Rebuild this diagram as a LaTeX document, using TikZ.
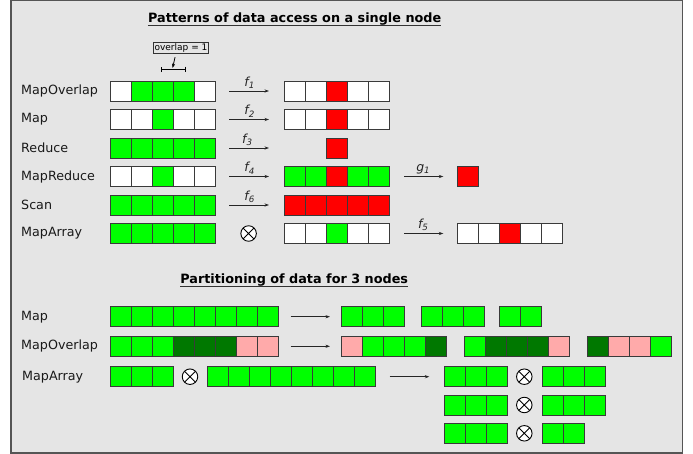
\documentclass[tikz,border=0pt]{standalone}
\usepackage{fontspec}
\setmainfont{DejaVu Sans}
\usetikzlibrary{arrows.meta}

\definecolor{bggray}{HTML}{E5E5E5}
\definecolor{framecol}{HTML}{555555}
\definecolor{cellline}{HTML}{3A3A3A}
\definecolor{cW}{HTML}{FFFFFF}
\definecolor{cG}{HTML}{00FF00}
\definecolor{cD}{HTML}{007800}
\definecolor{cP}{HTML}{FFAAAA}
\definecolor{cR}{HTML}{FF0000}

% one row of array cells: name, left x, top y, list of fill colours
\newcommand\cellrow[4]{%
  \foreach \c [count=\i] in {#4}{%
    \node[cell, fill=\c, anchor=north west] (#1-\i) at ({#2+21*(\i-1)},#3) {};
  }%
}

\tikzset{
  cell/.style={draw=cellline, line width=0.9pt, minimum width=21pt,
    minimum height=20pt, inner sep=0pt, outer sep=0pt},
  rowlabel/.style={anchor=west, inner sep=0pt, font=\fontsize{12.7}{15}\selectfont, text=black!90},
  title/.style={anchor=base, inner sep=0pt, font=\fontsize{12.8}{15}\selectfont\bfseries},
  flow/.style={-{Stealth[length=4.5pt,width=3.2pt]}, line width=0.8pt, black!85},
  flabel/.style={midway, above=2pt, inner sep=0pt, font=\fontsize{12.5}{15}\selectfont\itshape},
  combine/.style={circle, draw=black, fill=white, line width=0.9pt,
    minimum size=15.5pt, inner sep=0pt,
    path picture={\draw[line width=0.9pt] (path picture bounding box.center) +(45:7.75pt) -- +(225:7.75pt)
      (path picture bounding box.center) +(135:7.75pt) -- +(-45:7.75pt);}},
}

\begin{document}
\begin{tikzpicture}[x=1pt, y=-1pt]
\useasboundingbox (0,0) rectangle (693,454);
\draw[framecol, line width=1.3pt, fill=bggray] (11,0.7) rectangle (682.4,453);

% ---------- patterns of data access on a single node ----------
\node[title] (t1) at (294.7,22.7) {Patterns of data access on a single node};
\draw[line width=1.1pt, black!80] ([yshift=-3pt]t1.base west) -- ([yshift=-3pt]t1.base east);

\node[draw=black!80, line width=0.8pt, inner sep=1.2pt, font=\fontsize{9}{10}\selectfont]
  (ovbox) at (181,48.3) {overlap = 1};
\coordinate (brL) at (160.7,69.5);
\coordinate (brR) at (186,69.5);
\coordinate (brtip) at (172.6,68);
\draw[line width=0.9pt, {Bar[width=5.5pt]}-{Bar[width=5.5pt]}] (brL) -- (brR);
\draw[-{Stealth[length=4.5pt,width=3.2pt]}, line width=0.8pt, shorten <=3pt]
  ([xshift=-5.3pt]ovbox.south) -- (brtip);

% MapOverlap
\node[rowlabel] (l1) at (21,91) {MapOverlap};
\cellrow{a1}{110}{81}{cW,cG,cG,cG,cW}
\cellrow{b1}{284.3}{81}{cW,cW,cR,cW,cW}
\draw[flow, shorten <=14.3pt, shorten >=15.3pt] (a1-5.east) -- (b1-1.west)
  node[flabel] {f\textsubscript{1}};

% Map
\node[rowlabel] (l2) at (21,119.5) {Map};
\cellrow{a2}{110}{109.5}{cW,cW,cG,cW,cW}
\cellrow{b2}{284.3}{109.5}{cW,cW,cR,cW,cW}
\draw[flow, shorten <=14.3pt, shorten >=15.3pt] (a2-5.east) -- (b2-1.west)
  node[flabel] {f\textsubscript{2}};

% Reduce
\node[rowlabel] (l3) at (21,148) {Reduce};
\cellrow{a3}{110}{138}{cG,cG,cG,cG,cG}
\cellrow{b3}{326.3}{138}{cR}
\coordinate (e3) at (269,148);
\draw[flow, shorten <=14.3pt] (a3-5.east) -- (e3)
  node[flabel, pos=0.6] {f\textsubscript{3}};

% MapReduce
\node[rowlabel] (l4) at (21,176.5) {MapReduce};
\cellrow{a4}{110}{166.5}{cW,cW,cG,cW,cW}
\cellrow{b4}{284.3}{166.5}{cG,cG,cR,cG,cG}
\cellrow{c4}{457.3}{166.5}{cR}
\draw[flow, shorten <=14.3pt, shorten >=15.3pt] (a4-5.east) -- (b4-1.west)
  node[flabel] {f\textsubscript{4}};
\draw[flow, shorten <=14.7pt, shorten >=14pt] (b4-5.east) -- (c4-1.west)
  node[flabel] {g\textsubscript{1}};

% Scan
\node[rowlabel] (l5) at (21,205) {Scan};
\cellrow{a5}{110}{195}{cG,cG,cG,cG,cG}
\cellrow{b5}{284.3}{195}{cR,cR,cR,cR,cR}
\draw[flow, shorten <=14.3pt, shorten >=15.3pt] (a5-5.east) -- (b5-1.west)
  node[flabel] {f\textsubscript{6}};

% MapArray
\node[rowlabel] (l6) at (21,233.5) {MapArray};
\cellrow{a6}{110}{223.5}{cG,cG,cG,cG,cG}
\node[combine] (x6) at (248.6,233.5) {};
\cellrow{b6}{284.3}{223.5}{cW,cW,cG,cW,cW}
\cellrow{c6}{457.3}{223.5}{cW,cW,cR,cW,cW}
\draw[flow, shorten <=14.7pt, shorten >=14pt] (b6-5.east) -- (c6-1.west)
  node[flabel] {f\textsubscript{5}};

% ---------- partitioning of data for 3 nodes ----------
\node[title] (t2) at (294.2,283.3) {Partitioning of data for 3 nodes};
\draw[line width=1.1pt, black!80] ([yshift=-3pt]t2.base west) -- ([yshift=-3pt]t2.base east);

% Map
\node[rowlabel] (m1) at (21,316.7) {Map};
\cellrow{pa}{110}{306.7}{cG,cG,cG,cG,cG,cG,cG,cG}
\cellrow{pb}{341.7}{306.7}{cG,cG,cG}
\cellrow{pc}{421}{306.7}{cG,cG,cG}
\cellrow{pd}{499.3}{306.7}{cG,cG}
\draw[flow, shorten <=12.7pt, shorten >=11.7pt] (pa-8.east) -- (pb-1.west);

% MapOverlap
\node[rowlabel] (m2) at (21,346.3) {MapOverlap};
\cellrow{qa}{110}{336.3}{cG,cG,cG,cD,cD,cD,cP,cP}
\cellrow{qb}{341.7}{336.3}{cP,cG,cG,cG,cD}
\cellrow{qc}{464}{336.3}{cG,cD,cD,cD,cP}
\cellrow{qd}{587.3}{336.3}{cD,cP,cP,cG}
\draw[flow, shorten <=12.7pt, shorten >=11.7pt] (qa-8.east) -- (qb-1.west);

% MapArray
\node[rowlabel] (m3) at (22,376.7) {MapArray};
\cellrow{sa}{110}{366.7}{cG,cG,cG}
\node[combine] (sx) at (190,376.7) {};
\cellrow{sb}{207.3}{366.7}{cG,cG,cG,cG,cG,cG,cG,cG}
\cellrow{u1}{444.3}{366.7}{cG,cG,cG}
\node[combine] (ux1) at (524.3,376.7) {};
\cellrow{v1}{542.3}{366.7}{cG,cG,cG}
\cellrow{u2}{444.3}{395}{cG,cG,cG}
\node[combine] (ux2) at (524.3,405) {};
\cellrow{v2}{542.3}{395}{cG,cG,cG}
\cellrow{u3}{444.3}{423.3}{cG,cG,cG}
\node[combine] (ux3) at (524.3,433.3) {};
\cellrow{v3}{542.3}{423.3}{cG,cG}
\draw[flow, shorten <=14.3pt, shorten >=15pt] (sb-8.east) -- (u1-1.west);
\end{tikzpicture}
\end{document}
